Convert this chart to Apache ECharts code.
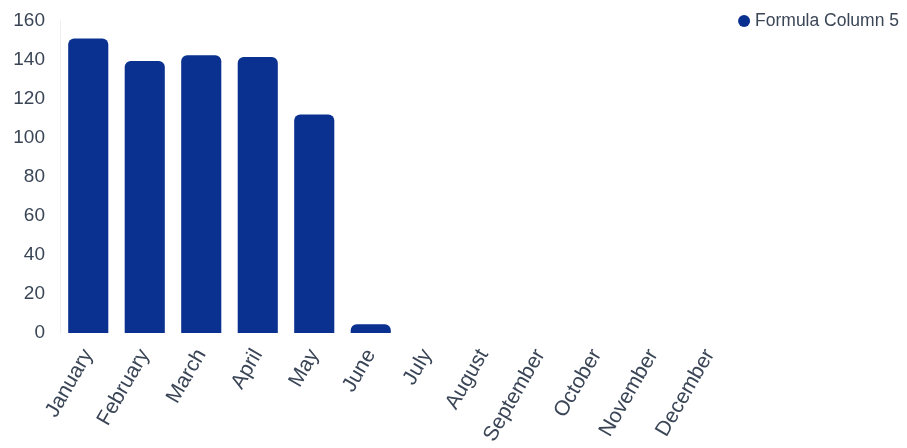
<!DOCTYPE html>
<html><head><meta charset="utf-8">
<script src="https://cdn.jsdelivr.net/npm/echarts@6/dist/echarts.min.js"></script>
<style>html,body{margin:0;padding:0;background:#fff}#c{width:907px;height:448px}</style>
</head><body><div id="c"></div>
<script>
const categories = ["January","February","March","April","May","June","July","August","September","October","November","December"];
const seriesName = "Formula Column 5";
const values = [151, 139.5, 142.5, 141.5, 112, 4.5, null, null, null, null, null, null];
const yTicks = {min: 0, max: 160, interval: 20};

const chart = echarts.init(document.getElementById('c'));
chart.setOption({
  animation: false,
  legend: {
    show: true, right: 3, top: 7, itemWidth: 12, itemHeight: 12, itemGap: 6, icon: 'circle',
    textStyle: {fontFamily: 'Liberation Sans, Arial', fontSize: 17.5, color: '#3a4556'},
    data: [seriesName]
  },
  grid: {left: 60, right: 169, top: 21, bottom: 115, containLabel: false},
  xAxis: {
    type: 'category', data: categories,
    axisLine: {show: false}, axisTick: {show: false},
    axisLabel: {rotate: 60, interval: 0, margin: 18, fontFamily: 'Liberation Sans, Arial', fontSize: 21, color: '#3a4556'}
  },
  yAxis: {
    type: 'value', min: yTicks.min, max: yTicks.max, interval: yTicks.interval,
    axisLine: {show: true, lineStyle: {color: '#eeeeee'}}, axisTick: {show: false},
    splitLine: {show: false},
    axisLabel: {margin: 15, fontFamily: 'Liberation Sans, Arial', fontSize: 19, color: '#3a4556'}
  },
  series: [{
    name: seriesName, type: 'bar', data: values, barCategoryGap: '29%',
    itemStyle: {color: '#0a318f', borderRadius: [6, 6, 0, 0]}
  }]
});
</script></body></html>
